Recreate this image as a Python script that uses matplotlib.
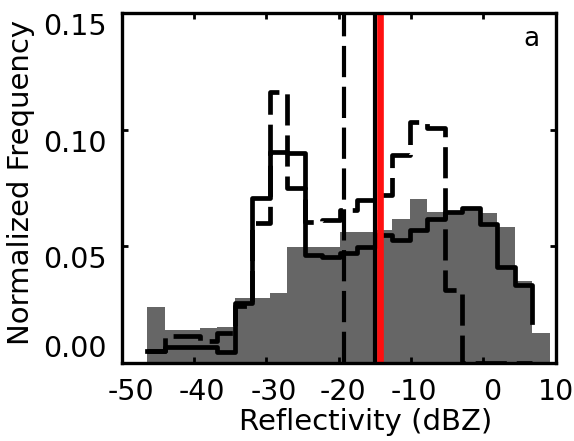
"""Normalized reflectivity histograms (panel a), three samples plus mean lines."""

import matplotlib
matplotlib.use("Agg")
import matplotlib.pyplot as plt
import matplotlib.transforms as mtransforms

# bin edges in dBZ
EDGES = [-46.50, -44.08, -41.66, -39.23, -36.81, -34.39, -31.97, -29.55,
         -27.12, -24.70, -22.28, -19.86, -17.44, -15.01, -12.59, -10.17,
         -7.75, -5.33, -2.90, -0.48, 1.94, 4.36, 6.78, 9.21]

# gray filled histogram (23 bins)
GRAY_FREQ = [0.0241, 0.0141, 0.0141, 0.0150, 0.0156, 0.0277, 0.0277, 0.0299,
             0.0499, 0.0499, 0.0499, 0.0563, 0.0560, 0.0570, 0.0616, 0.0703,
             0.0649, 0.0649, 0.0660, 0.0642, 0.0584, 0.0350, 0.0127]

# solid step histogram (22 bins + end point at edge 22)
SOLID_FREQ = [0.0051, 0.0068, 0.0068, 0.0068, 0.0048, 0.0257, 0.0707, 0.0906,
              0.0899, 0.0463, 0.0456, 0.0470, 0.0499, 0.0549, 0.0527, 0.0570,
              0.0615, 0.0648, 0.0663, 0.0595, 0.0413, 0.0334, 0.0177]

# dashed step histogram (22 bins + end point)
DASHED_FREQ = [0.0051, 0.0117, 0.0117, 0.0095, 0.0130, 0.0245, 0.0600, 0.1163,
               0.0750, 0.0603, 0.0613, 0.0656, 0.0699, 0.0720, 0.0890, 0.1034,
               0.1006, 0.0313, 0.0, 0.0, 0.0, 0.0, 0.0]

# vertical reference lines (dBZ)
DASHED_MEAN = -19.25
SOLID_MEAN = -15.0
RED_MEAN = -14.3

XTICKS = [-50, -40, -30, -20, -10, 0, 10]
YTICKS = [0.00, 0.05, 0.10, 0.15]

plt.rcParams["font.family"] = ["DejaVu Sans"]
plt.rcParams["axes.unicode_minus"] = False

FS = 20.5
DASH = (0, (6.6, 2.1))

fig = plt.figure(figsize=(5.74, 4.41), dpi=100)
ax = fig.add_axes([0.212, 0.177, 0.756, 0.7935])

step_x = EDGES[:len(SOLID_FREQ)]
ax.stairs(GRAY_FREQ, EDGES, fill=True, color="#666666", lw=0)
ax.step(step_x, SOLID_FREQ, where="post", color="black", lw=3.4)
ax.step(step_x, DASHED_FREQ, where="post", color="black", lw=3.4, ls=DASH)

ax.axvline(DASHED_MEAN, color="black", lw=3.0, ls=(0, (7.5, 2.3)))
ax.axvline(SOLID_MEAN, color="black", lw=3.0)
ax.axvline(RED_MEAN, color="#ff1010", lw=4.8)

ax.set_xlim(-50, 10)
ax.set_ylim(0, 0.15)
ax.set_xticks(XTICKS)
ax.set_yticks(YTICKS)
ax.set_xticklabels([str(t) for t in XTICKS], fontsize=FS)
ax.set_yticklabels([f"{t:.2f}" for t in YTICKS], fontsize=FS)
ax.tick_params(direction="in", length=4, width=2, top=True, right=True)
ax.tick_params(axis="x", pad=11)
ax.tick_params(axis="y", pad=10.5)

# IDL-like label placement: x labels sit a little right of their ticks
x_shift_px = [9, 8, 7, 4, 3, 9, 0]
for lab, dx in zip(ax.get_xticklabels(), x_shift_px):
    lab.set_transform(lab.get_transform()
                      + mtransforms.ScaledTranslation(dx / 100, 0,
                                                      fig.dpi_scale_trans))
for i, lab in enumerate(ax.get_yticklabels()):
    lab.set_va("bottom" if i == 0 else "top")

for sp in ax.spines.values():
    sp.set_linewidth(2.4)

ax.set_xlabel("Reflectivity (dBZ)", fontsize=FS + 0.5)
ax.set_ylabel("Normalized Frequency", fontsize=FS + 0.5)
ax.xaxis.set_label_coords(0.563, -0.128)
ax.yaxis.set_label_coords(-0.20, 0.515)

ax.text(0.944, 0.926, "a", transform=ax.transAxes, fontsize=19,
        ha="center", va="center")

fig.savefig("out.png", dpi=100)
